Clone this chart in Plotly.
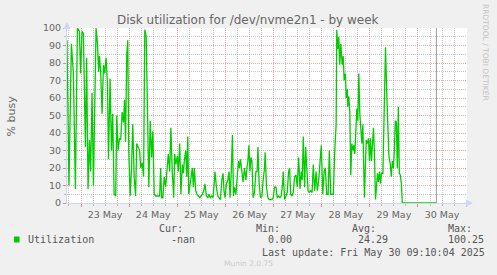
import pandas as pd
import plotly.graph_objects as go

# ---------------- data ----------------
title_text = "Disk utilization for /dev/nvme2n1 - by week"
y_label = "% busy"
series_name = "Utilization"

# hours relative to 2025-05-23 00:00
hours = [
    -7.0, -6.0, -4.8, -3.8, -2.8, -1.8, -0.8, -0.2, 0.5, 1.2, 2.2, 2.8, 3.5, 4.2, 4.8, 5.5,
    6.2, 6.8, 7.5, 8.2, 8.8, 9.2, 9.8, 10.5, 11.2, 11.8, 12.5, 13.2, 13.7, 14.5, 15.2, 15.8,
    16.5, 17.3, 17.8, 18.5, 19.2, 19.8, 20.5, 21.2,
    21.7, 22.2, 22.8, 23.3, 23.8, 24.5, 25.2, 25.8, 26.5, 27.2, 27.8, 28.5, 29.2, 29.8, 30.5,
    31.2, 31.8, 32.5, 33.2, 33.8, 34.5, 35.2, 35.8, 36.5, 37.2, 38.2, 39.2, 39.7, 40.2, 40.8,
    41.5, 42.2, 42.8, 43.5, 44.2, 44.8, 45.5, 46.2, 46.7, 47.3, 48.0, 48.5, 49.2,
    49.8, 50.5, 51.0, 51.5, 52.2, 52.7, 53.2, 53.7, 54.2, 54.8, 55.5, 56.0, 56.5, 57.2, 57.8,
    58.5, 59.2, 59.8, 60.5, 61.2, 61.8, 62.5, 63.2, 63.8, 64.5, 65.2, 65.8, 66.5, 66.8, 67.5,
    68.2, 68.8, 69.5, 70.2, 70.8, 71.3, 71.8, 72.5, 73.2, 73.8, 74.3, 74.8, 75.5, 76.0, 76.5,
    77.2, 77.8, 78.5, 79.0, 79.5, 80.2, 80.8, 81.5, 82.2, 82.7, 83.2, 83.7, 84.2, 84.7, 85.2,
    85.8, 86.5, 87.2, 87.8, 88.2, 88.8, 89.5, 90.2, 90.8, 91.5, 91.8, 92.5, 93.2, 93.8, 94.5,
    95.2, 95.8, 96.5, 97.2, 97.8, 98.5, 99.2, 99.8, 100.5, 100.8, 101.5, 102.2, 102.8, 103.5,
    104.0, 104.5,
    105.2, 105.8, 106.5, 107.2, 107.8, 108.5, 109.2, 109.8, 110.3, 110.8, 111.5, 112.0, 112.5,
    113.2, 113.8, 114.5, 115.2, 115.8, 116.5, 117.2, 117.8, 118.5, 119.2, 119.8, 120.5, 121.2,
    121.8, 122.5, 123.2, 123.8, 124.5, 125.2, 125.8, 126.5, 127.2, 127.5, 128.0, 128.5, 129.0,
    129.5, 130.2, 130.7, 131.2, 131.8, 132.2, 132.8,
    133.0, 133.5, 134.0, 134.5, 135.0, 135.5, 136.0, 136.5, 137.0, 137.5, 138.0, 138.5, 139.0,
    139.5, 140.0, 140.5, 140.8, 141.3, 141.8, 142.2, 142.8, 143.3, 143.8, 144.3, 144.8, 145.3,
    145.8, 146.3, 146.8, 147.3, 147.8, 148.3, 148.8, 149.3, 149.8, 150.5, 151.2, 151.8, 152.5,
    153.0, 153.5, 154.2, 154.7, 155.2, 155.7, 156.2, 156.7, 157.2, 157.7, 158.2, 158.7, 159.2,
    159.7, 160.2, 177.2,
]
busy = [
    93, 10, 91, 74, 8, 100, 98, 74, 98, 97, 32, 83, 8, 36, 18, 63,
    10, 53, 100, 91, 75, 84, 75, 51, 79, 74, 83, 68, 25, 71, 30, 51,
    5, 4, 50, 30, 37, 36, 52, 46,
    59, 35, 85, 93, 30, 4, 20, 45, 15, 4, 34, 32, 30, 20, 23,
    15, 99, 95, 41, 9, 47, 26, 41, 5, 4, 4, 4, 20, 3, 3,
    15, 9, 18, 28, 18, 43, 18, 3, 28, 22, 27, 18, 34,
    5, 22, 17, 24, 30, 15, 38, 5, 9, 13, 20, 9, 20, 7, 5,
    4, 3, 4, 5, 7, 11, 4, 3, 5, 3, 4, 3, 13, 18, 9,
    4, 3, 2, 13, 17, 7, 3, 11, 13, 18, 3, 15, 39, 4, 9,
    5, 16, 24, 20, 25, 18, 12, 20, 13, 20, 24, 33, 18, 26, 24,
    3, 6, 18, 18, 32, 11, 3, 4, 13, 20, 29, 9, 3, 2, 2,
    2, 3, 9, 9, 3, 4, 3, 4, 11, 18, 2, 4, 6, 18,
    20, 5,
    4, 6, 15, 16, 9, 26, 8, 18, 13, 38, 9, 32, 24,
    7, 6, 7, 6, 22, 7, 18, 7, 13, 24, 33, 5, 18,
    20, 5, 5, 30, 5, 5, 5, 30, 45, 99, 88, 95, 79,
    91, 79, 84, 70, 74, 60, 65,
    55, 61, 52, 16, 34, 30, 33, 28, 38, 54, 47, 74, 51,
    41, 34, 45, 28, 3, 22, 36, 34, 37, 24, 37, 24, 34,
    43, 28, 2, 9, 17, 12, 18, 11, 17, 17, 51, 89, 60,
    39, 27, 22, 15, 24, 20, 30, 47, 46, 20, 55, 17, 16,
    11, 0, 0,
]

base_day = "2025-05-23"
x_range = ["2025-05-22 17:01", "2025-05-31 00:26"]
last_update_time = "2025-05-30 09:10:04"

stat_heads = ["Cur:", "Min:", "Avg:", "Max:"]
stat_vals = ["-nan", "0.00", "24.29", "100.25"]
last_update_text = "Last update: Fri May 30 09:10:04 2025"
footer_text = "Munin 2.0.75"
watermark_text = "RRDTOOL / TOBI OETIKER"

# ---------------- figure ----------------
W, H = 497, 275
L, R, T, B = 67, 30, 28, 72
PW, PH = W - L - R, H - T - B


def px(x):
    return (x - L) / PW


def py(y):
    return (T + PH - y) / PH


times = pd.Timestamp(base_day) + pd.to_timedelta(hours, unit="h")

FONT = "DejaVu Sans"
MONO = "DejaVu Sans Mono"
FC = "#666666"
AXIS_C = "#CFD6F8"
MGRID = "rgba(225,110,110,0.6)"
GRID = "rgba(150,150,150,0.55)"

fig = go.Figure()
fig.add_trace(go.Scatter(
    x=times, y=busy, mode="lines", name=series_name,
    line=dict(color="#00CC00", width=1.3), showlegend=False,
))

fig.update_layout(
    width=W, height=H,
    margin=dict(l=L, r=R, t=T, b=B, pad=0),
    paper_bgcolor="#F0F0F0", plot_bgcolor="#FFFFFF",
    font=dict(family=FONT, size=9.5, color=FC),
    showlegend=False,
)

fig.update_xaxes(
    type="date", range=x_range, automargin=False,
    tickmode="linear", tick0=base_day, dtick=86400000,
    ticklabelmode="period", tickformat="%d %b",
    tickfont=dict(family=FONT, size=9.5, color=FC),
    showgrid=True, gridcolor=MGRID, griddash="1px,1px", gridwidth=1,
    ticks="outside", ticklen=3, tickcolor="rgba(225,110,110,0.8)",
    showline=True, linecolor=AXIS_C, linewidth=1, zeroline=False,
    minor=dict(dtick=6 * 3600000, tick0=base_day, showgrid=True, gridcolor=GRID,
               griddash="1px,1px", ticks="outside", ticklen=2, tickcolor=GRID),
)
fig.update_yaxes(
    range=[0, 100], automargin=False, tickmode="linear", tick0=0, dtick=10,
    tickfont=dict(family=FONT, size=9.5, color=FC),
    showgrid=True, gridcolor=MGRID, griddash="1px,1px", gridwidth=1,
    ticks="outside", ticklen=3, tickcolor="rgba(225,110,110,0.8)",
    showline=True, linecolor=AXIS_C, linewidth=1, zeroline=False,
    minor=dict(dtick=5, showgrid=True, gridcolor=GRID, griddash="1px,1px",
               ticks="outside", ticklen=2, tickcolor=GRID),
)

# "now" marker line
fig.add_shape(type="line", xref="x", yref="y", x0=last_update_time, x1=last_update_time,
              y0=0, y1=100, line=dict(color="#999999", width=1))

ann = []
# axis arrows
ann.append(dict(x=1, y=0, xref="paper", yref="y", xshift=6, text="", showarrow=True,
                ax=-10, ay=0, arrowhead=2, arrowsize=1.4, arrowwidth=1, arrowcolor=AXIS_C))
ann.append(dict(x=0, y=1, xref="paper", yref="paper", yshift=6, text="", showarrow=True,
                ax=0, ay=10, arrowhead=2, arrowsize=1.4, arrowwidth=1, arrowcolor=AXIS_C))
# title
ann.append(dict(x=px(248), y=py(19.5), xref="paper", yref="paper", text=title_text,
                showarrow=False, font=dict(family=FONT, size=12, color=FC),
                xanchor="center", yanchor="middle"))
# y-axis title
ann.append(dict(x=px(11), y=0.5, xref="paper", yref="paper", text=y_label, textangle=-90,
                showarrow=False, font=dict(family=FONT, size=11, color=FC),
                xanchor="center", yanchor="middle"))
# watermark
ann.append(dict(x=px(486), y=py(52), xref="paper", yref="paper", text=watermark_text,
                textangle=90, showarrow=False, font=dict(family=FONT, size=7.5, color="#C4C4C4"),
                xanchor="center", yanchor="middle"))

LC = "#555555"
head_x = [158.3, 255, 351, 446.7]
val_x = [170, 266.7, 356.7, 446.7]
for hx, ht in zip(head_x, stat_heads):
    ann.append(dict(x=px(hx), y=py(228), xref="paper", yref="paper", text=ht, showarrow=False,
                    font=dict(family=MONO, size=10, color=LC), xanchor="left", yanchor="middle",
                    borderpad=0))
for vx, vt in zip(val_x, stat_vals):
    ann.append(dict(x=px(vx), y=py(239), xref="paper", yref="paper", text=vt, showarrow=False,
                    font=dict(family=MONO, size=10, color=LC), xanchor="left", yanchor="middle",
                    borderpad=0))
ann.append(dict(x=px(26.7), y=py(239), xref="paper", yref="paper", text=series_name,
                showarrow=False, font=dict(family=MONO, size=10, color=LC),
                xanchor="left", yanchor="middle", borderpad=0))
ann.append(dict(x=px(261), y=py(252), xref="paper", yref="paper", text=last_update_text,
                showarrow=False, font=dict(family=MONO, size=10, color=LC),
                xanchor="left", yanchor="middle", borderpad=0))
ann.append(dict(x=px(248), y=py(263), xref="paper", yref="paper", text=footer_text,
                showarrow=False, font=dict(family=FONT, size=7.5, color="#CCCCCC"),
                xanchor="center", yanchor="middle", borderpad=0))
fig.update_layout(annotations=ann)

# legend colour box
fig.add_shape(type="rect", xref="paper", yref="paper", x0=px(14), x1=px(19.5),
              y0=py(242.5), y1=py(236.5), fillcolor="#00CC00", line=dict(width=0))

fig.write_html("out.html")
